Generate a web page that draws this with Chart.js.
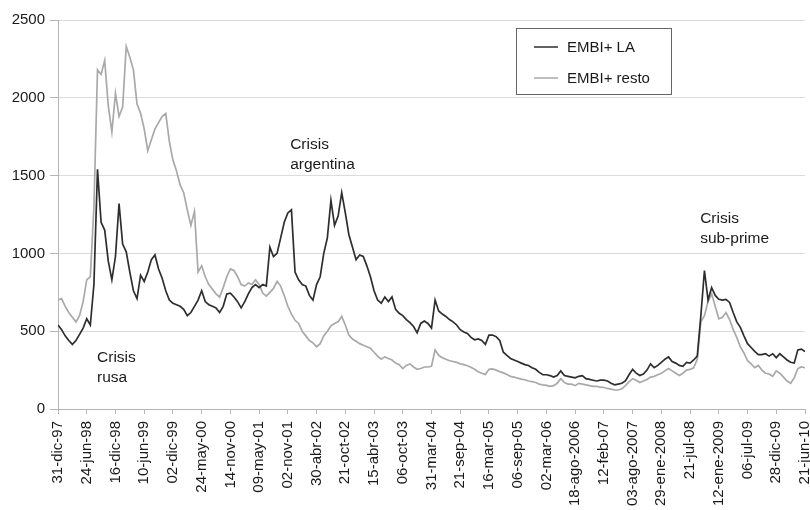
<!DOCTYPE html>
<html>
<head>
<meta charset="utf-8">
<script src="https://cdn.jsdelivr.net/npm/chart.js@4.4.1/dist/chart.umd.min.js"></script>
<style>
  html, body { margin: 0; padding: 0; background: #fff; }
  #wrap { width: 810px; height: 510px; }
</style>
</head>
<body>
<div id="wrap"><canvas id="chart" width="810" height="510"></canvas></div>
<script>
// fechas del eje x (una marca cada ~6 meses)
const tickLabels = [
    '31-dic-97', '24-jun-98', '16-dic-98', '10-jun-99', '02-dic-99', '24-may-00',
    '14-nov-00', '09-may-01', '02-nov-01', '30-abr-02', '21-oct-02', '15-abr-03',
    '06-oct-03', '31-mar-04', '21-sep-04', '16-mar-05', '06-sep-05', '02-mar-06',
    '18-ago-2006', '12-feb-07', '03-ago-2007', '29-ene-2008', '21-jul-08',
    '12-ene-2009', '06-jul-09', '28-dic-09', '21-jun-10'
];

// valores: 8 por intervalo entre fechas
const pointsPerTick = 8;

const embiLA = [
    540, 510, 470, 440, 415, 440, 480, 520,
    580, 540, 800, 1540, 1200, 1150, 950, 830,
    980, 1320, 1060, 1010, 880, 760, 710, 860,
    820, 880, 960, 990, 900, 840, 760, 700,
    680, 670, 660, 640, 600, 620, 660, 700,
    760, 690, 670, 660, 650, 620, 660, 740,
    745, 720, 690, 650, 690, 740, 780, 800,
    780, 800, 790, 1040, 980, 1000, 1100, 1200,
    1260, 1280, 880, 830, 800, 790, 730, 700,
    800, 850, 1000, 1100, 1340, 1180, 1240, 1390,
    1260, 1120, 1040, 960, 990, 980, 920, 850,
    760, 700, 680, 720, 690, 720, 640, 615,
    600, 575, 555, 530, 490, 550, 565, 550,
    520, 700, 630, 610, 595, 575, 560, 540,
    510, 495, 485, 460, 445, 450, 440, 415,
    475, 475, 465, 440, 365, 345, 325, 315,
    305, 295, 285, 280, 265, 255, 235, 220,
    220, 215, 205, 215, 245, 215, 210, 205,
    200, 210, 215, 195, 190, 185, 180, 185,
    185, 180, 165, 155, 160, 165, 180, 220,
    255, 230, 215, 225, 250, 290, 265, 280,
    300, 320, 335, 305, 295, 280, 275, 300,
    295, 315, 340, 600, 890, 700, 780, 730,
    705, 700, 705, 685, 620, 560, 525, 470,
    420, 395, 370, 350, 350, 355, 340, 355,
    330, 355, 335, 315, 300, 295, 380, 385,
    370
];

const embiResto = [
    700, 710, 660, 620, 590, 560, 600, 690,
    830, 850, 1300, 2180, 2150, 2240, 1950, 1780,
    2030, 1880, 1940, 2330, 2260, 2180, 1960, 1900,
    1800, 1660, 1730, 1800, 1840, 1880, 1900, 1720,
    1600, 1530, 1440, 1390, 1280, 1180, 1270, 880,
    920, 850, 800, 770, 740, 720, 780, 850,
    900, 890, 850, 800, 790, 810, 800, 830,
    800, 745, 725, 750, 775, 820, 790, 730,
    660, 610, 570, 550, 500, 470, 440, 425,
    400, 420, 470, 500, 535, 550, 560, 595,
    540, 475, 450, 435, 420, 410, 400, 390,
    365, 340, 320, 335, 325, 315, 295, 285,
    260, 280, 290, 270, 255, 260, 270, 270,
    275, 380, 345, 330, 320, 310, 305, 300,
    290, 285, 278, 268, 255, 240, 230, 222,
    255, 258, 250, 240, 232, 222, 210, 205,
    198, 192, 188, 180, 176, 170, 160, 155,
    152, 145, 150, 165, 195, 170, 160, 160,
    150, 165, 160, 155, 150, 145, 145, 140,
    138, 132, 128, 122, 122, 130, 150, 175,
    195, 185, 170, 180, 190, 205, 210, 220,
    230, 245, 260, 245, 230, 215, 230, 250,
    255, 265, 320, 560, 600, 690, 740, 660,
    580, 590, 620, 575, 510, 460, 400, 360,
    310, 290, 265, 280, 250, 230, 225, 210,
    245, 230, 205, 180, 165, 200, 260, 270,
    265
];

const yMax = 2500;
const yStep = 500;

// notas de las crisis, ancladas en coordenadas de datos
const crisisNotes = [
    { lines: ['Crisis', 'rusa'], x: 1.36, y: 380 },
    { lines: ['Crisis', 'argentina'], x: 8.08, y: 1750 },
    { lines: ['Crisis', 'sub-prime'], x: 22.35, y: 1270 }
];

const FONT = '"Liberation Sans", Arial, sans-serif';

function toPoints(values) {
    return values.map((v, i) => ({ x: i / pointsPerTick, y: v }));
}

const notesPlugin = {
    id: 'crisisNotes',
    afterDatasetsDraw(chart) {
        const ctx = chart.ctx;
        const xs = chart.scales.x;
        const ys = chart.scales.y;
        ctx.save();
        ctx.fillStyle = '#1a1a1a';
        ctx.font = '15.5px ' + FONT;
        ctx.textBaseline = 'top';
        ctx.textAlign = 'left';
        crisisNotes.forEach((note) => {
            const px = xs.getPixelForValue(note.x);
            const py = ys.getPixelForValue(note.y);
            note.lines.forEach((line, k) => {
                ctx.fillText(line, px, py + k * 20);
            });
        });
        ctx.restore();
    }
};

const legendPlugin = {
    id: 'boxLegend',
    afterDraw(chart) {
        const ctx = chart.ctx;
        ctx.save();
        ctx.fillStyle = '#fff';
        ctx.fillRect(516.5, 28.5, 155, 66);
        ctx.strokeStyle = '#666';
        ctx.lineWidth = 1;
        ctx.strokeRect(516.5, 28.5, 155, 66);
        chart.data.datasets.forEach((ds, i) => {
            const y = 47 + i * 31;
            ctx.strokeStyle = ds.borderColor;
            ctx.lineWidth = 1.5;
            ctx.beginPath();
            ctx.moveTo(534, y);
            ctx.lineTo(558, y);
            ctx.stroke();
            ctx.fillStyle = '#1a1a1a';
            ctx.font = '15px ' + FONT;
            ctx.textBaseline = 'middle';
            ctx.fillText(ds.label, 567, y + 1);
        });
        ctx.restore();
    }
};

const ctx = document.getElementById('chart').getContext('2d');
new Chart(ctx, {
    type: 'line',
    data: {
        datasets: [
            {
                label: 'EMBI+ LA',
                data: toPoints(embiLA),
                borderColor: '#2e2e2e',
                borderWidth: 1.7,
                pointRadius: 0,
                tension: 0
            },
            {
                label: 'EMBI+ resto',
                data: toPoints(embiResto),
                borderColor: '#a9a9a9',
                borderWidth: 1.7,
                pointRadius: 0,
                tension: 0
            }
        ]
    },
    options: {
        responsive: false,
        animation: false,
        layout: {
            padding: { top: 20, right: 5, left: 0, bottom: 0 }
        },
        plugins: {
            legend: { display: false },
            tooltip: { enabled: false }
        },
        scales: {
            x: {
                type: 'linear',
                min: 0,
                max: tickLabels.length - 1,
                afterBuildTicks: (scale) => {
                    scale.ticks = tickLabels.map((_, i) => ({ value: i }));
                },
                afterFit: (scale) => {
                    scale.height = 101;
                    scale.paddingLeft = 0;
                    scale.paddingRight = 0;
                },
                ticks: {
                    autoSkip: false,
                    maxRotation: 90,
                    minRotation: 90,
                    padding: 7,
                    color: '#1a1a1a',
                    font: { family: FONT, size: 15 },
                    callback: (value) => tickLabels[value]
                },
                grid: {
                    drawOnChartArea: false,
                    drawTicks: true,
                    tickLength: 5,
                    color: '#b5b5b5'
                },
                border: { color: '#b5b5b5' }
            },
            y: {
                min: 0,
                max: yMax,
                afterFit: (scale) => {
                    scale.width = 58;
                    scale.paddingTop = 0;
                    scale.paddingBottom = 0;
                },
                ticks: {
                    stepSize: yStep,
                    padding: 5,
                    color: '#1a1a1a',
                    font: { family: FONT, size: 15 },
                    callback: (value) => String(value)
                },
                grid: {
                    color: '#dcdcdc',
                    tickLength: 8,
                    tickColor: '#b5b5b5'
                },
                border: { color: '#b5b5b5' }
            }
        }
    },
    plugins: [notesPlugin, legendPlugin]
});
</script>
</body>
</html>
